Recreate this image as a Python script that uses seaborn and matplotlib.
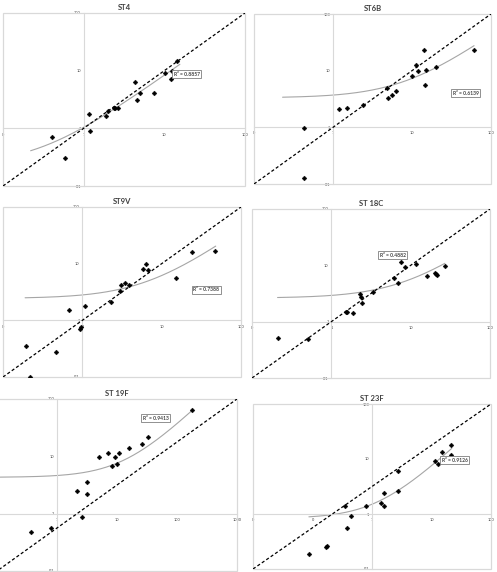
import numpy as np
import pandas as pd
import matplotlib
matplotlib.use('Agg')
import matplotlib.pyplot as plt
from matplotlib.patches import Rectangle
from matplotlib.ticker import NullLocator
import seaborn as sns

# ---- values ----
titles = ['ST4', 'ST6B', 'ST9V', 'ST 18C', 'ST 19F', 'ST 23F']
r2_text = ['0.8857', '0.6139', '0.7388', '0.4882', '0.9413', '0.9126']

st4_x = [0.41, 0.58, 1.16, 1.19, 1.91, 2.02, 2.36, 2.45, 2.64, 4.33, 4.63, 4.95, 7.45, 10.1, 12.0, 12.3, 14.4]
st4_y = [0.70, 0.30, 1.80, 0.90, 1.64, 2.01, 2.29, 2.29, 2.29, 6.26, 3.04, 4.02, 4.13, 9.1, 7.25, 9.7, 14.7]

st6b_x = [0.43, 0.43, 1.20, 1.49, 2.39, 4.86, 4.90, 5.56, 6.31, 10.0, 11.1, 11.8, 14.0, 14.8, 15.2, 20.4, 61.0]
st6b_y = [0.99, 0.126, 2.08, 2.16, 2.45, 4.88, 3.25, 3.72, 4.32, 8.16, 12.8, 9.9, 23.2, 5.66, 10.1, 11.8, 23.2]

st9v_x = [0.193, 0.219, 0.46, 0.685, 0.94, 0.96, 1.08, 2.28, 3.01, 3.10, 3.42, 3.87, 5.76, 6.29, 6.66, 15.2, 23.9, 47.5]
st9v_y = [0.35, 0.10, 0.28, 1.50, 0.71, 0.75, 1.78, 2.10, 3.23, 4.22, 4.58, 4.17, 8.17, 10.0, 7.64, 5.60, 15.8, 16.9]

st18c_x = [0.213, 0.508, 1.52, 1.58, 1.89, 2.28, 2.34, 2.46, 3.38, 6.22, 7.0, 7.63, 8.57, 11.6, 16.1, 20.1, 20.6, 21.3, 26.8]
st18c_y = [0.52, 0.49, 1.49, 1.50, 1.43, 3.16, 2.76, 2.13, 3.30, 6.02, 4.84, 11.4, 9.47, 10.6, 6.36, 7.3, 7.1, 6.81, 9.7]

st19f_x = [0.364, 0.784, 2.18, 2.64, 3.12, 3.12, 4.95, 7.08, 8.36, 9.15, 10.0, 10.8, 15.8, 26.1, 32.4, 180]
st19f_y = [0.48, 0.556, 2.51, 0.875, 3.51, 2.23, 9.55, 11.5, 6.84, 9.68, 7.3, 11.4, 14.1, 16.5, 21.8, 64.4]

st23f_x = [0.087, 0.167, 0.174, 0.353, 0.376, 0.439, 0.79, 1.40, 1.61, 1.61, 2.76, 2.76, 11.5, 12.9, 15.3, 21.1, 21.1]
st23f_y = [0.19, 0.248, 0.26, 1.38, 0.556, 0.907, 1.40, 1.58, 2.41, 1.40, 6.14, 2.62, 9.2, 8.0, 13.4, 18.0, 11.7]

trend_slope = [0.812, 0.398, 0.3745, 0.305, 0.33, 0.674]
trend_icept = [0.23, 3.31, 2.43, 2.62, 4.3, 0.83]
trend_lo = [0.22, 0.23, 0.19, 0.21, 0.05, 0.087]
trend_hi = [15.6, 61.0, 48.0, 27.0, 180.0, 21.9]

x_ticks_3dec = [0.1, 1, 10, 100]
x_labels_3dec = ['0', '1', '10', '100']
x_ticks_19f = [1, 10, 100, 1000]          # the "0" at 0.1 falls off the picture
x_labels_19f = ['1', '10', '100', '1000']
x_ticks_23f = [0.01, 0.1, 1, 10, 100]
x_labels_23f = ['0', '0', '1', '10', '100']
x_limits = [(0.1, 100)] * 4 + [(0.1, 1000), (0.01, 100)]
y_ticks = [0.1, 1, 10, 100]
y_labels = ['0.1', '1', '10', '100']

# ---- layout (pixel boxes: left, top, right, bottom) ----
W, H = 497, 572
boxes = [(3, 13, 245, 186), (254, 14, 491, 184),
         (3, 207, 241, 377), (252, 209, 490, 378),
         (-3, 399, 237, 571), (253, 404, 491, 569)]
r2_pos = [(13, 8.7), (32.8, 4.0), (25, 3.5), (4.07, 15.1), (27.1, 46), (14.9, 9.5)]

panels = [
    (st4_x, st4_y, x_ticks_3dec, x_labels_3dec),
    (st6b_x, st6b_y, x_ticks_3dec, x_labels_3dec),
    (st9v_x, st9v_y, x_ticks_3dec, x_labels_3dec),
    (st18c_x, st18c_y, x_ticks_3dec, x_labels_3dec),
    (st19f_x, st19f_y, x_ticks_19f, x_labels_19f),
    (st23f_x, st23f_y, x_ticks_23f, x_labels_23f),
]

sns.set_theme(style='white')
plt.rcParams['font.family'] = ['Lato', 'DejaVu Sans']

fig = plt.figure(figsize=(W / 100, H / 100), dpi=100)
fig.patch.set_facecolor('white')

for i, (xs, ys, xt, xl) in enumerate(panels):
    l, t, r, b = boxes[i]
    ax = fig.add_axes([l / W, 1 - b / H, (r - l) / W, (b - t) / H])
    ax.set_facecolor('white')
    df = pd.DataFrame({'x': xs, 'y': ys})

    ax.set_xscale('log')
    ax.set_yscale('log')
    ax.set_xlim(*x_limits[i])
    ax.set_ylim(y_ticks[0], y_ticks[-1])

    # linear trendline drawn on log axes -> curve
    tx = np.geomspace(trend_lo[i], trend_hi[i], 200)
    sns.lineplot(x=tx, y=trend_slope[i] * tx + trend_icept[i], ax=ax,
                 color='#a6a6a6', lw=0.8, zorder=2)

    # 1:1 diagonal, corner to corner of the plot area
    ax.plot([0, 1], [0, 1], transform=ax.transAxes, color='black',
            lw=0.9, ls=(0, (2.5, 1.8)), zorder=3)

    sns.scatterplot(data=df, x='x', y='y', ax=ax, marker='D', s=6,
                    color='black', edgecolor='black', linewidth=0.3, zorder=4)

    ax.set_xticks(xt, xl)
    ax.set_yticks(y_ticks, y_labels)
    ax.xaxis.set_minor_locator(NullLocator())
    ax.yaxis.set_minor_locator(NullLocator())
    ax.set_xlabel('')
    ax.set_ylabel('')

    for s in ['top', 'right']:
        ax.spines[s].set_visible(False)
    for s in ['left', 'bottom']:
        ax.spines[s].set_position(('data', 1))
        ax.spines[s].set_color('#d9d9d9')
        ax.spines[s].set_linewidth(0.8)
    ax.add_patch(Rectangle((0, 0), 1, 1, transform=ax.transAxes, fill=False,
                           ec='#d9d9d9', lw=0.9, clip_on=False, zorder=1))
    ax.tick_params(axis='x', length=0, pad=3, labelsize=2.8, labelcolor='#404040')
    ax.tick_params(axis='y', length=0, pad=2, labelsize=2.8, labelcolor='#404040')

    ax.set_title(titles[i], fontsize=5.5, fontweight='bold', color='#404040', pad=2)

    rx, ry = r2_pos[i]
    ax.text(rx, ry, f'R² = {r2_text[i]}', fontsize=3.6, fontweight='bold',
            color='#404040', ha='left', va='center', zorder=5,
            bbox=dict(boxstyle='square,pad=0.3', fc='white', ec='#7f7f7f', lw=0.6))

fig.savefig('out.png', dpi=100)
